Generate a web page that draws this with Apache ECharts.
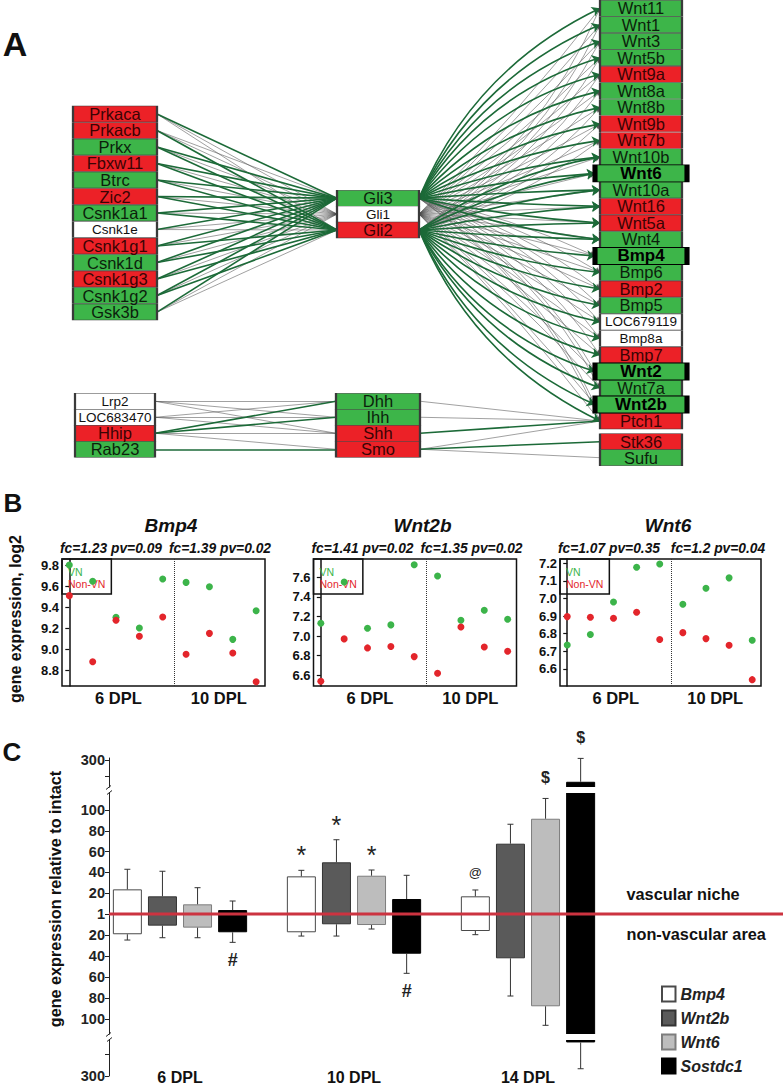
<!DOCTYPE html>
<html>
<head>
<meta charset="utf-8">
<title>Hedgehog / Wnt / Bmp network and expression</title>
<script src="https://cdn.jsdelivr.net/npm/echarts@6/dist/echarts.min.js"></script>
<style>
html,body{margin:0;padding:0;background:#ffffff;}
#chart{width:783px;height:1090px;}
</style>
</head>
<body>
<div id="chart"></div>
<script>
// ================= DATA =================
// ---- Panel A: network nodes (expression state: up = green, down = red, none = white)
const hubRegulators = ['Prkaca','Prkacb','Prkx','Fbxw11','Btrc','Zic2','Csnk1a1','Csnk1e','Csnk1g1','Csnk1d','Csnk1g3','Csnk1g2','Gsk3b'];
const hubRegulatorState = ['down','down','up','down','up','down','up','none','down','up','down','up','up'];
const gliGenes = ['Gli3','Gli1','Gli2'];
const gliState = ['up','none','down'];
const targetGenes = ['Wnt11','Wnt1','Wnt3','Wnt5b','Wnt9a','Wnt8a','Wnt8b','Wnt9b','Wnt7b','Wnt10b','Wnt6','Wnt10a','Wnt16','Wnt5a','Wnt4','Bmp4','Bmp6','Bmp2','Bmp5','LOC679119','Bmp8a','Bmp7','Wnt2','Wnt7a','Wnt2b','Ptch1'];
const targetState = ['up','up','up','up','down','up','up','down','down','up','up','up','down','down','up','up','up','down','up','none','none','down','up','up','up','down'];
const hhRegulators = ['Lrp2','LOC683470','Hhip','Rab23'];
const hhRegulatorState = ['none','none','down','up'];
const hhLigands = ['Dhh','Ihh','Shh','Smo'];
const hhLigandState = ['up','up','down','down'];
const hhEffectors = ['Stk36','Sufu'];
const hhEffectorState = ['down','up'];
const highlightedGenes = ['Wnt6','Bmp4','Wnt2','Wnt2b'];

// ---- Panel A: network links
const hubToGliActivation = [
  ['Prkaca','Gli3'],['Prkacb','Gli2'],['Prkx','Gli3'],['Prkx','Gli2'],
  ['Fbxw11','Gli3'],['Fbxw11','Gli2'],['Btrc','Gli3'],['Btrc','Gli2'],
  ['Zic2','Gli3'],['Zic2','Gli2'],['Csnk1a1','Gli3'],['Csnk1a1','Gli2'],
  ['Csnk1e','Gli3'],['Csnk1g1','Gli3'],['Csnk1g1','Gli2'],['Csnk1d','Gli3'],
  ['Csnk1d','Gli2'],['Csnk1g3','Gli3'],['Csnk1g3','Gli2'],['Csnk1g2','Gli3'],
  ['Csnk1g2','Gli2'],['Gsk3b','Gli3']
];
const hubToGliBinding = [
  ['Prkaca','Gli1'],['Prkaca','Gli2'],['Prkacb','Gli1'],['Prkacb','Gli3'],['Prkx','Gli1'],
  ['Fbxw11','Gli1'],['Btrc','Gli1'],['Zic2','Gli1'],['Csnk1a1','Gli1'],['Csnk1e','Gli1'],
  ['Csnk1e','Gli2'],['Csnk1g1','Gli1'],['Csnk1d','Gli1'],['Csnk1g3','Gli1'],['Csnk1g2','Gli1'],
  ['Gsk3b','Gli1'],['Gsk3b','Gli2']
];
const gli3Activates = ['Wnt11','Wnt1','Wnt3','Wnt5b','Wnt9a','Wnt8a','Wnt8b','Wnt9b','Wnt7b','Wnt10b','Wnt6','Wnt10a','Wnt16','Wnt5a','Wnt4'];
const gli2Activates = ['Wnt10b','Wnt6','Wnt10a','Wnt16','Wnt5a','Wnt4','Bmp4','Bmp6','Bmp2','Bmp5','LOC679119','Bmp8a','Bmp7','Wnt2','Wnt7a','Wnt2b','Ptch1'];
const gli1Binds = ['Wnt11','Wnt1','Wnt3','Wnt5b','Wnt9a','Wnt8a','Wnt8b','Wnt9b','Wnt7b','Wnt10b','Wnt6','Wnt10a','Wnt16','Wnt5a','Wnt4','Bmp4','Bmp6','Bmp2','Bmp5','LOC679119','Bmp8a','Bmp7','Wnt2','Wnt7a','Wnt2b','Ptch1'];
const gli2Binds = ['Wnt11','Wnt1','Wnt3','Wnt5b','Wnt9a','Wnt8a','Wnt8b','Wnt9b','Wnt7b'];
const gli3Binds = ['Bmp4','Bmp6','Bmp2','Bmp5','LOC679119','Bmp8a','Bmp7','Wnt2','Wnt7a','Wnt2b','Ptch1'];
const hhActivation = [['Hhip','Dhh'],['Hhip','Ihh'],['Rab23','Smo'],['Shh','Ptch1'],['Smo','Stk36']];
const hhBinding = [['Lrp2','Dhh'],['Lrp2','Ihh'],['Lrp2','Shh'],['LOC683470','Dhh'],['LOC683470','Ihh'],['LOC683470','Shh'],['Hhip','Shh'],['Hhip','Smo'],['Dhh','Ptch1'],['Ihh','Ptch1'],['Smo','Ptch1'],['Smo','Sufu']];

// ---- Panel B: log2 expression, 5 samples at 6 DPL then 4 at 10 DPL
const bGenes = ['Bmp4','Wnt2b','Wnt6'];
const bTimeLabels = ['6 DPL','10 DPL'];
const bSamplesPerTime = [5, 4];
const bFoldChange = [[1.23, 1.39], [1.41, 1.35], [1.07, 1.2]];
const bPValue = [[0.09, 0.02], [0.02, 0.02], [0.35, 0.04]];
const vnBmp4 = [9.80, 9.645, 9.303, 9.202, 9.667, 9.635, 9.594, 9.094, 9.366];
const nonVnBmp4 = [9.509, 8.882, 9.275, 9.123, 9.306, 8.952, 9.151, 8.965, 8.692];
const vnWnt2b = [7.131, 7.552, 7.080, 7.114, 7.729, 7.614, 7.161, 7.263, 7.171];
const nonVnWnt2b = [6.539, 6.971, 6.879, 6.893, 6.790, 6.620, 7.093, 6.889, 6.845];
const vnWnt6 = [6.736, 6.795, 6.980, 7.177, 7.196, 6.967, 7.058, 7.117, 6.763];
const nonVnWnt6 = [6.897, 6.893, 6.888, 6.922, 6.767, 6.806, 6.772, 6.734, 6.539];
const bmp4Ticks = [8.8, 9.0, 9.2, 9.4, 9.6, 9.8];
const wnt2bTicks = [6.6, 6.8, 7.0, 7.2, 7.4, 7.6];
const wnt6Ticks = [6.6, 6.7, 6.8, 6.9, 7.0, 7.1, 7.2];

// ---- Panel C: fold change relative to intact
const cStages = ['6 DPL','10 DPL','14 DPL'];
const cGenes = ['Bmp4','Wnt2b','Wnt6','Sostdc1'];
const vascularNiche    = [[23.7, 36.2, 17.0], [17.0, 49.7, 67.6], [9.3, 36.8, 91.6], [3.8, 14.4, 183]];
const vascularNicheErr = [[43.0, 42.0, 23.1], [41.1, 71.4, 86.3], [25.3, 42.3, 134], [12.5, 37.2, 310]];
const nonVascular      = [[19.3, 17.4, 16.2], [11.1, 9.8, 42.2], [13.0, 10.5, 87.9], [17.4, 37.8, 167]];
const nonVascularErr   = [[24.8, 21.0, 19.7], [22.6, 21.0, 78.1], [22.6, 14.3, 118], [27.0, 56.5, 267]];
const marksVascular    = [['', '*', '@'], ['', '*', ''], ['', '*', '$'], ['', '', '$']];
const marksNonVascular = [['', '', ''], ['', '', ''], ['', '', ''], ['#', '#', '']];
const cTickMagnitudes = [300, 100, 80, 60, 40, 20];
const cMinorTickMagnitudes = [200];
const cBaselineLabel = '1';
const cSideLabels = ['vascular niche', 'non-vascular area'];
const cAxisName = 'gene expression relative to intact';
const bAxisName = 'gene expression, log2';

// ================= STYLE / LAYOUT =================
const FONT = "'Liberation Sans', Arial, Helvetica, sans-serif";
const FILL = {up: '#3db549', down: '#ec2127', none: '#ffffff'};
const LABEL_COLOR = {up: '#0c1f0c', down: '#3a0404', none: '#111111'};
const EDGE_GREEN = '#1c6a38';
const EDGE_GRAY = '#505050';
const DOT_GREEN = '#3cb44a';
const DOT_RED = '#e3252b';

// Panel A geometry (x in page px, y in row units)
const ROW_PX = 16.51, ROW0_PX = 8.3, A_HEIGHT = 480;
const COLUMN_X = [115, 378, 641];
const NODE_H = 16;
const nodeGroups = [
  {genes: hubRegulators, state: hubRegulatorState, col: 0, row0: 6.4, step: 1, w: 84},
  {genes: gliGenes, state: gliState, col: 1, row0: 11.5, step: 0.965, w: 82},
  {genes: targetGenes, state: targetState, col: 2, row0: 0, step: 1, w: 82},
  {genes: hhRegulators, state: hhRegulatorState, col: 0, row0: 23.8, step: 0.97, w: 80},
  {genes: hhLigands, state: hhLigandState, col: 1, row0: 23.8, step: 0.97, w: 84},
  {genes: hhEffectors, state: hhEffectorState, col: 2, row0: 26.25, step: 0.97, w: 82}
];
const nodes = {};
const nodeData = [], highlightData = [];
nodeGroups.forEach(g => g.genes.forEach((name, i) => {
  const hl = highlightedGenes.indexOf(name) >= 0;
  const st = g.state[i];
  const w = hl ? 92 : g.w;
  const x = COLUMN_X[g.col], y = g.row0 + i * g.step;
  nodes[name] = {x, y, w};
  (hl ? highlightData : nodeData).push({
    name, value: [x, y], symbolSize: [w, hl ? NODE_H + 1 : NODE_H],
    itemStyle: {color: FILL[st], opacity: 1, borderColor: hl ? '#000' : '#3a3a3a', borderWidth: hl ? 2.2 : 1},
    label: {fontSize: hl ? 17 : (st === 'none' ? 13.5 : 16.5), fontWeight: hl ? 'bold' : 'normal', color: hl ? '#000' : LABEL_COLOR[st]}
  });
}));
function clamp(v) { return Math.max(-1, Math.min(1, v)); }
function link(a, b, bend) {
  const s = nodes[a], t = nodes[b];
  const dy = t.y - s.y;
  return {coords: [[s.x + s.w / 2, s.y], [t.x - t.w / 2, t.y]], lineStyle: {curveness: bend * clamp(dy / 8)}};
}
const plainGray = hubToGliBinding.map(p => link(p[0], p[1], 0)).concat(hhBinding.map(p => link(p[0], p[1], 0)));
const plainGreen = hubToGliActivation.map(p => link(p[0], p[1], 0)).concat(hhActivation.map(p => link(p[0], p[1], 0)));
const arrowGreen = gli3Activates.map(t => link('Gli3', t, -0.19)).concat(gli2Activates.map(t => link('Gli2', t, -0.19)));
const arrowGray = gli1Binds.map(t => link('Gli1', t, 0.03))
  .concat(gli2Binds.map(t => link('Gli2', t, 0.14)))
  .concat(gli3Binds.map(t => link('Gli3', t, 0.14)));

// Panel B geometry
const B_LEFT = [62, 313.5, 560], B_WIDTH = [203, 203, 201], B_TOP = 559, B_HEIGHT = 127;
const B_XRANGE = [-0.313, 8.38];
const B_YRANGE = [[8.651, 9.857], [6.49, 7.787], [6.503, 7.224]];
const bSeries = [[vnBmp4, nonVnBmp4], [vnWnt2b, nonVnWnt2b], [vnWnt6, nonVnWnt6]];
const bTicks = [bmp4Ticks, wnt2bTicks, wnt6Ticks];
const bDivider = bSamplesPerTime[0] - 0.5;
const bLabelPos = [2.1, 6.4];

// Panel C geometry: piecewise (broken) axis, page px from the baseline
const C_UP_SCALE = [[0, 0], [100, 104], [200, 138], [300, 154]];
const C_DOWN_SCALE = [[0, 0], [100, 105], [200, 140], [300, 162]];
const C_BREAK_UP = 124, C_BREAK_DOWN = -123;
const BAR_W = 29, BAR_STEP = 35.1, AXIS_SHIFT = 16;
function piecewise(tbl, v) {
  for (let i = 1; i < tbl.length; i++) {
    if (v <= tbl[i][0] || i === tbl.length - 1) {
      const a0 = tbl[i - 1][0], b0 = tbl[i - 1][1], a1 = tbl[i][0], b1 = tbl[i][1];
      return b0 + (v - a0) * (b1 - b0) / (a1 - a0);
    }
  }
}
const tUp = v => piecewise(C_UP_SCALE, v);
const tDown = v => -piecewise(C_DOWN_SCALE, v);
const cLabelPos = [0], cLabelText = {'0.00': cBaselineLabel};
cTickMagnitudes.forEach(v => {
  const p = tUp(v), q = tDown(v);
  cLabelPos.push(p, q);
  cLabelText[p.toFixed(2)] = String(v);
  cLabelText[q.toFixed(2)] = String(v);
});
const cTickPos = cLabelPos.slice();
cMinorTickMagnitudes.forEach(v => cTickPos.push(tUp(v), tDown(v)));

const GENE_FILL = ['#ffffff', '#5a5a5a', '#bdbdbd', '#000000'];
const GENE_BORDER = ['#4a4a4a', '#333333', '#7d7d7d', '#000000'];

// ================= OPTION =================
const grids = [{left: 0, top: 0, width: 783, height: A_HEIGHT}];
const xAxes = [{gridIndex: 0, type: 'value', min: 0, max: 783, show: false}];
const yAxes = [{gridIndex: 0, type: 'value', inverse: true, min: -ROW0_PX / ROW_PX, max: (A_HEIGHT - ROW0_PX) / ROW_PX, show: false}];
const nodeLabel = {show: true, position: 'inside', formatter: '{b}', fontFamily: FONT, lineHeight: 16};
const series = [
  {type: 'lines', coordinateSystem: 'cartesian2d', xAxisIndex: 0, yAxisIndex: 0, silent: true, z: 2,
   lineStyle: {color: EDGE_GRAY, width: 0.6, opacity: 0.9}, data: plainGray},
  {type: 'lines', coordinateSystem: 'cartesian2d', xAxisIndex: 0, yAxisIndex: 0, silent: true, z: 2,
   symbol: ['none', 'arrow'], symbolSize: [0, 5],
   lineStyle: {color: EDGE_GRAY, width: 0.6, opacity: 0.9}, data: arrowGray},
  {type: 'lines', coordinateSystem: 'cartesian2d', xAxisIndex: 0, yAxisIndex: 0, silent: true, z: 3,
   lineStyle: {color: EDGE_GREEN, width: 1.6, opacity: 1}, data: plainGreen},
  {type: 'lines', coordinateSystem: 'cartesian2d', xAxisIndex: 0, yAxisIndex: 0, silent: true, z: 3,
   symbol: ['none', 'arrow'], symbolSize: [0, 8],
   lineStyle: {color: EDGE_GREEN, width: 1.6, opacity: 1}, data: arrowGreen},
  {type: 'scatter', xAxisIndex: 0, yAxisIndex: 0, symbol: 'rect', z: 5, silent: true,
   itemStyle: {opacity: 1}, label: nodeLabel, data: nodeData},
  {type: 'scatter', xAxisIndex: 0, yAxisIndex: 0, symbol: 'rect', z: 6, silent: true,
   itemStyle: {opacity: 1}, label: nodeLabel, data: highlightData}
];
const legends = [];
const graphics = [];

bGenes.forEach((gene, k) => {
  const gi = k + 1;
  grids.push({left: B_LEFT[k], top: B_TOP, width: B_WIDTH[k], height: B_HEIGHT, show: true,
              borderColor: '#111', borderWidth: 1.5, backgroundColor: 'transparent'});
  xAxes.push({gridIndex: gi, type: 'value', min: B_XRANGE[0], max: B_XRANGE[1],
    axisLine: {show: false}, axisTick: {show: false}, splitLine: {show: false},
    axisLabel: {customValues: bLabelPos, margin: 3, formatter: v => (v < bDivider ? bTimeLabels[0] : bTimeLabels[1]),
                fontFamily: FONT, fontWeight: 'bold', fontSize: 16.5, color: '#111'}});
  yAxes.push({gridIndex: gi, type: 'value', min: B_YRANGE[k][0], max: B_YRANGE[k][1],
    axisLine: {show: true, lineStyle: {color: '#111', width: 1.5}},
    axisTick: {show: true, customValues: bTicks[k], length: 4, lineStyle: {color: '#111', width: 1.2}},
    splitLine: {show: false},
    axisLabel: {customValues: bTicks[k], formatter: v => v.toFixed(1), margin: 3,
                fontFamily: FONT, fontWeight: 'bold', fontSize: 13, color: '#111'}});
  const [vn, non] = bSeries[k];
  series.push({type: 'scatter', name: 'VN', xAxisIndex: gi, yAxisIndex: gi, symbolSize: 7, z: 3,
    itemStyle: {color: DOT_GREEN, opacity: 1}, data: vn.map((v, i) => [i, v]),
    markLine: {silent: true, symbol: 'none', label: {show: false},
               lineStyle: {type: 'dotted', color: '#333', width: 1}, data: [{xAxis: bDivider}]}});
  series.push({type: 'scatter', name: 'Non-VN', xAxisIndex: gi, yAxisIndex: gi, symbolSize: 7, z: 4,
    itemStyle: {color: DOT_RED, opacity: 1}, data: non.map((v, i) => [i, v])});
  legends.push({left: B_LEFT[k], top: B_TOP, orient: 'vertical', itemWidth: 0, itemHeight: 0, itemGap: 0,
    padding: [7, 6, 4, 1], borderColor: '#111', borderWidth: 1.5, backgroundColor: 'transparent',
    selectedMode: false, z: 2,
    textStyle: {fontFamily: FONT, fontSize: 10.5, lineHeight: 12},
    data: [{name: 'VN', textStyle: {color: DOT_GREEN}}, {name: 'Non-VN', textStyle: {color: DOT_RED}}]});
  const cx = B_LEFT[k] + B_WIDTH[k] / 2 + 7.5;
  graphics.push({type: 'text', x: cx, y: 525, text: gene, size: 19, weight: 'bold', style: 'italic'});
  [0, 1].forEach(t => {
    graphics.push({type: 'text', x: B_LEFT[k] + (t === 0 ? 49 : 158), y: 548,
      text: 'fc=' + String(bFoldChange[k][t]) + ' pv=' + String(bPValue[k][t]), size: 13.8, weight: 'bold', style: 'italic'});
  });
});

// Panel C
grids.push({left: 93, top: 758, width: 522, height: 318});
xAxes.push({gridIndex: 4, type: 'category', data: cStages,
  axisLine: {show: false}, axisTick: {show: false}, splitLine: {show: false},
  axisLabel: {margin: 1, verticalAlign: 'middle', fontFamily: FONT, fontWeight: 'bold', fontSize: 16, color: '#111'}});
yAxes.push({gridIndex: 4, type: 'value', min: -162, max: 156, offset: -AXIS_SHIFT,
  axisLine: {show: true, lineStyle: {color: '#222', width: 1}},
  axisTick: {show: true, customValues: cTickPos, length: 4, lineStyle: {color: '#222', width: 1}},
  splitLine: {show: false},
  axisLabel: {customValues: cLabelPos, margin: 4, formatter: v => (cLabelText[v.toFixed(2)] || ''),
              fontFamily: FONT, fontWeight: 'bold', fontSize: 14.5, color: '#222'}});
cGenes.forEach((gene, gi) => {
  const style = {color: GENE_FILL[gi], borderColor: GENE_BORDER[gi], borderWidth: 1, opacity: 1};
  series.push({type: 'bar', name: gene, xAxisIndex: 4, yAxisIndex: 4, stack: 'g' + gi, barWidth: BAR_W, barGap: '21%',
    itemStyle: style, z: 2, data: vascularNiche[gi].map(v => tUp(v))});
  series.push({type: 'bar', name: gene, xAxisIndex: 4, yAxisIndex: 4, stack: 'g' + gi, barWidth: BAR_W, barGap: '21%',
    itemStyle: style, z: 2, data: nonVascular[gi].map(v => tDown(v))});
});
const whiskerData = [];
cGenes.forEach((gene, gi) => cStages.forEach((s, si) => {
  whiskerData.push([si, gi, tUp(vascularNiche[gi][si]), tUp(vascularNicheErr[gi][si]), 1]);
  whiskerData.push([si, gi, tDown(nonVascular[gi][si]), tDown(nonVascularErr[gi][si]), -1]);
}));
const MARK_FONT = {'*': [25, 'normal', 15], '#': [18, 'bold', 18], '@': [13, 'normal', 17], '$': [16, 'bold', 21]};
series.push({type: 'custom', xAxisIndex: 4, yAxisIndex: 4, z: 6, silent: true,
  encode: {x: 0, y: 3}, data: whiskerData,
  renderItem: function (params, api) {
    const si = api.value(0), gi = api.value(1), b = api.value(2), e = api.value(3), dir = api.value(4);
    const pb = api.coord([si, b]), pe = api.coord([si, e]);
    const x = pb[0] + (gi - 1.5) * BAR_STEP;
    const children = [
      {type: 'line', shape: {x1: x, y1: pb[1], x2: x, y2: pe[1]}, style: {stroke: '#333', lineWidth: 1}},
      {type: 'line', shape: {x1: x - 3, y1: pe[1], x2: x + 3, y2: pe[1]}, style: {stroke: '#333', lineWidth: 1}}
    ];
    const brk = dir > 0 ? C_BREAK_UP : C_BREAK_DOWN;
    if (Math.abs(b) > Math.abs(brk)) {
      const py = api.coord([si, brk])[1];
      children.push({type: 'rect', shape: {x: x - BAR_W / 2 - 1.5, y: py - 3, width: BAR_W + 3, height: 6}, style: {fill: '#ffffff'}});
    }
    const mark = (dir > 0 ? marksVascular : marksNonVascular)[gi][si];
    if (mark) {
      const f = MARK_FONT[mark];
      children.push({type: 'text', x: x, y: pe[1] - dir * f[2],
        style: {text: mark, fill: '#222', fontSize: f[0], fontWeight: f[1], fontFamily: FONT,
                align: 'center', verticalAlign: 'middle', textAlign: 'center', textVerticalAlign: 'middle'}});
    }
    return {type: 'group', children: children};
  }});
// axis breaks
series.push({type: 'custom', xAxisIndex: 4, yAxisIndex: 4, z: 7, silent: true,
  encode: {x: 0, y: 1}, data: [[0, C_BREAK_UP], [0, C_BREAK_DOWN]],
  renderItem: function (params, api) {
    const y = api.coord([0, api.value(1)])[1];
    const x = params.coordSys.x + AXIS_SHIFT;
    return {type: 'group', children: [
      {type: 'rect', shape: {x: x - 4, y: y - 2.5, width: 8, height: 5}, style: {fill: '#ffffff'}},
      {type: 'line', shape: {x1: x - 3, y1: y - 0.5, x2: x + 2, y2: y - 4.5}, style: {stroke: '#222', lineWidth: 1}},
      {type: 'line', shape: {x1: x - 2, y1: y + 4.5, x2: x + 3, y2: y + 0.5}, style: {stroke: '#222', lineWidth: 1}}
    ]};
  }});
// baseline (fold change = 1)
series.push({type: 'custom', xAxisIndex: 4, yAxisIndex: 4, z: 5, silent: true,
  encode: {x: 0, y: 1}, data: [[0, 0]],
  renderItem: function (params, api) {
    const y = api.coord([0, api.value(1)])[1];
    return {type: 'line', shape: {x1: params.coordSys.x + AXIS_SHIFT, y1: y, x2: 783, y2: y},
            style: {stroke: '#cc3340', lineWidth: 3}};
  }});
legends.push({left: 661, top: 985.5, orient: 'vertical', itemWidth: 13.5, itemHeight: 15, itemGap: 7,
  icon: 'rect', selectedMode: false, padding: 0,
  textStyle: {fontFamily: FONT, fontSize: 16, fontStyle: 'italic', fontWeight: 'bold', color: '#222', lineHeight: 15},
  data: cGenes});

// Text annotations
graphics.push({type: 'text', x: 15, y: 44, text: 'A', size: 34, weight: 'bold'});
graphics.push({type: 'text', x: 13, y: 503, text: 'B', size: 26, weight: 'bold'});
graphics.push({type: 'text', x: 12, y: 752, text: 'C', size: 26, weight: 'bold'});
graphics.push({type: 'text', x: 15, y: 619, text: bAxisName, size: 16, weight: 'bold', rot: Math.PI / 2});
graphics.push({type: 'text', x: 55, y: 899, text: cAxisName, size: 16.2, weight: 'bold', rot: Math.PI / 2});
graphics.push({type: 'text', x: 626.5, y: 894, text: cSideLabels[0], size: 16.3, weight: 'bold', align: 'left'});
graphics.push({type: 'text', x: 626.5, y: 934, text: cSideLabels[1], size: 16.3, weight: 'bold', align: 'left'});

const graphicElements = graphics.map(g => ({
  type: 'text', x: g.x, y: g.y, rotation: g.rot || 0, silent: true, z: 10,
  style: {text: g.text, fill: '#111', fontFamily: FONT, fontSize: g.size, fontWeight: g.weight || 'normal',
          fontStyle: g.style || 'normal',
          align: g.align || 'center', verticalAlign: 'middle',
          textAlign: g.align || 'center', textVerticalAlign: 'middle'}
}));

grids.forEach(g => { g.containLabel = false; g.outerBoundsMode = 'none'; });

const chart = echarts.init(document.getElementById('chart'), null, {renderer: 'svg', width: 783, height: 1090});
chart.setOption({
  animation: false,
  backgroundColor: '#ffffff',
  textStyle: {fontFamily: FONT},
  grid: grids,
  xAxis: xAxes,
  yAxis: yAxes,
  legend: legends,
  graphic: graphicElements,
  series: series
});
</script>
</body>
</html>
